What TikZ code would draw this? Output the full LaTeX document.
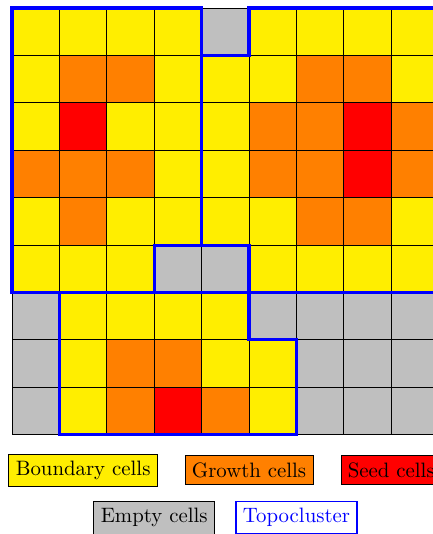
\documentclass[tikz,border=0pt]{standalone}
\usetikzlibrary{calc}
\definecolor{cY}{RGB}{255,238,0}
\definecolor{cO}{RGB}{255,128,0}
\definecolor{cR}{RGB}{255,0,0}
\definecolor{cG}{RGB}{191,191,191}
\begin{document}
\begin{tikzpicture}[x=0.8cm,y=-0.8cm,
  cellbox/.style={draw=black,line width=0.4pt},
  topo/.style={draw=blue,line width=1.5pt},
  legbox/.style={draw=black,line width=0.4pt,inner sep=3.33pt,text=black}]
\useasboundingbox (-0.253,-0.169) rectangle (8.879,11.094);
\foreach \row [count=\j from 0] in {
  {Y,Y,Y,Y,G,Y,Y,Y,Y},
  {Y,O,O,Y,Y,Y,O,O,Y},
  {Y,R,Y,Y,Y,O,O,R,O},
  {O,O,O,Y,Y,O,O,R,O},
  {Y,O,Y,Y,Y,Y,O,O,Y},
  {Y,Y,Y,G,G,Y,Y,Y,Y},
  {G,Y,Y,Y,Y,G,G,G,G},
  {G,Y,O,O,Y,Y,G,G,G},
  {G,Y,O,R,O,Y,G,G,G}}{
  \foreach \c [count=\i from 0] in \row {
    \filldraw[cellbox,fill=c\c] (\i,\j) rectangle ++(1,1);
  }
}
% topoclusters
\draw[topo] (0,0) -- (4,0) -- (4,5) -- (3,5) -- (3,6) -- (0,6) -- cycle;
\draw[topo] (5,0) -- (9,0) -- (9,6) -- (5,6) -- (5,5) -- (4,5) -- (4,1) -- (5,1) -- cycle;
\draw[topo] (1,6) -- (5,6) -- (5,7) -- (6,7) -- (6,9) -- (1,9) -- cycle;
% legend
\node[legbox,fill=cY] (lb) at (1.5,9.75) {Boundary cells};
\node[legbox,fill=cO] (lg) at (5,9.75) {Growth cells};
\node[legbox,fill=cR] (ls) at (8,9.75) {Seed cells};
\node[legbox,fill=cG] (le) at (3,10.75) {Empty cells};
\node[legbox,draw=blue,text=blue,line width=0.8pt] (lt) at (6,10.75) {Topocluster};
\end{tikzpicture}
\end{document}
